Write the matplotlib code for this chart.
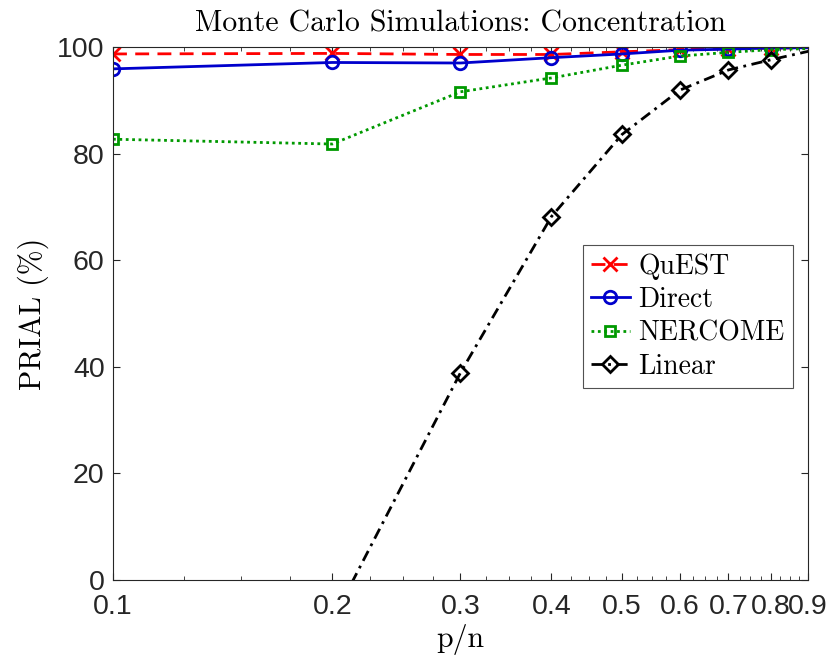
import numpy as np
import matplotlib
matplotlib.use("Agg")
import matplotlib.pyplot as plt
from matplotlib.ticker import FixedLocator, NullFormatter

# p/n ratios (last point lies past the axis limit, so only its line shows)
pn = [0.1, 0.2, 0.3, 0.4, 0.5, 0.6, 0.7, 0.8, 0.95]

# PRIAL (%) per method
quest = [98.7, 98.8, 98.6, 98.6, 99.1, 99.5, 99.7, 99.8, 99.9]
direct = [95.9, 97.1, 97.0, 98.0, 98.7, 99.4, 99.6, 99.8, 99.9]
nercome = [82.7, 81.8, 91.6, 94.2, 96.6, 98.3, 99.0, 99.5, 99.8]
linear = [-60.0, -7.6, 38.9, 68.2, 83.6, 91.9, 95.7, 97.6, 99.9]

xticks = [0.1, 0.2, 0.3, 0.4, 0.5, 0.6, 0.7, 0.8, 0.9]
xticklabels = ["0.1", "0.2", "0.3", "0.4", "0.5", "0.6", "0.7", "0.8", "0.9"]
yticks = [0, 20, 40, 60, 80, 100]

serif = "cmr10"
axis_gray = "#262626"

fig = plt.figure(figsize=(8.28, 6.65), dpi=100)
ax = fig.add_axes([0.1365, 0.1278, 0.8393, 0.8015])

ax.plot(pn, quest, color="red", lw=2, dashes=(5, 3), marker="x",
        markersize=10, markeredgewidth=2, label="QuEST")
ax.plot(pn, direct, color="#0000cc", lw=2, linestyle="-", marker="o",
        markersize=9, markeredgewidth=2, markerfacecolor="none", label="Direct")
ax.plot(pn, nercome, color="#009900", lw=2, dashes=(1, 1.3), marker="s",
        markersize=7.5, markeredgewidth=2, markerfacecolor="none", label="NERCOME")
ax.plot(pn, linear, color="black", lw=2, dashes=(4, 2, 1, 2), marker="D",
        markersize=8, markeredgewidth=2, markerfacecolor="none", label="Linear")

ax.set_xscale("log")
ax.set_xlim(0.1, 0.9)
ax.set_ylim(0, 100)

ax.xaxis.set_major_locator(FixedLocator(xticks))
ax.set_xticklabels(xticklabels)
ax.xaxis.set_minor_locator(FixedLocator(np.arange(0.125, 0.9, 0.025)))
ax.xaxis.set_minor_formatter(NullFormatter())
ax.set_yticks(yticks)

for lab in ax.get_xticklabels() + ax.get_yticklabels():
    lab.set_fontfamily("Liberation Sans")
    lab.set_fontsize(20.5)
    lab.set_color(axis_gray)

ax.tick_params(which="both", direction="in", top=True, right=True, colors=axis_gray)
ax.tick_params(axis="x", which="major", length=5, width=0.8, pad=10)
ax.tick_params(axis="y", which="major", length=5, width=0.8, pad=6)
ax.tick_params(which="minor", length=3, width=0.6)
for s in ax.spines.values():
    s.set_color(axis_gray)
    s.set_linewidth(0.8)

ax.set_title("Monte Carlo Simulations: Concentration", fontfamily=serif,
             fontsize=21.5, pad=11)
ax.set_xlabel("p/n", fontfamily=serif, fontsize=21.5, labelpad=3)
ax.set_ylabel("PRIAL (%)", fontfamily=serif, fontsize=21.5, labelpad=6)

leg = ax.legend(loc="upper right", bbox_to_anchor=(0.978, 0.6285), borderaxespad=0,
                prop={"family": serif, "size": 20}, fancybox=False,
                handlelength=1.4, handletextpad=0.3, labelspacing=0.25,
                borderpad=0.3)
leg.get_frame().set_edgecolor(axis_gray)
leg.get_frame().set_linewidth(0.8)

fig.savefig("out.png", dpi=100)
